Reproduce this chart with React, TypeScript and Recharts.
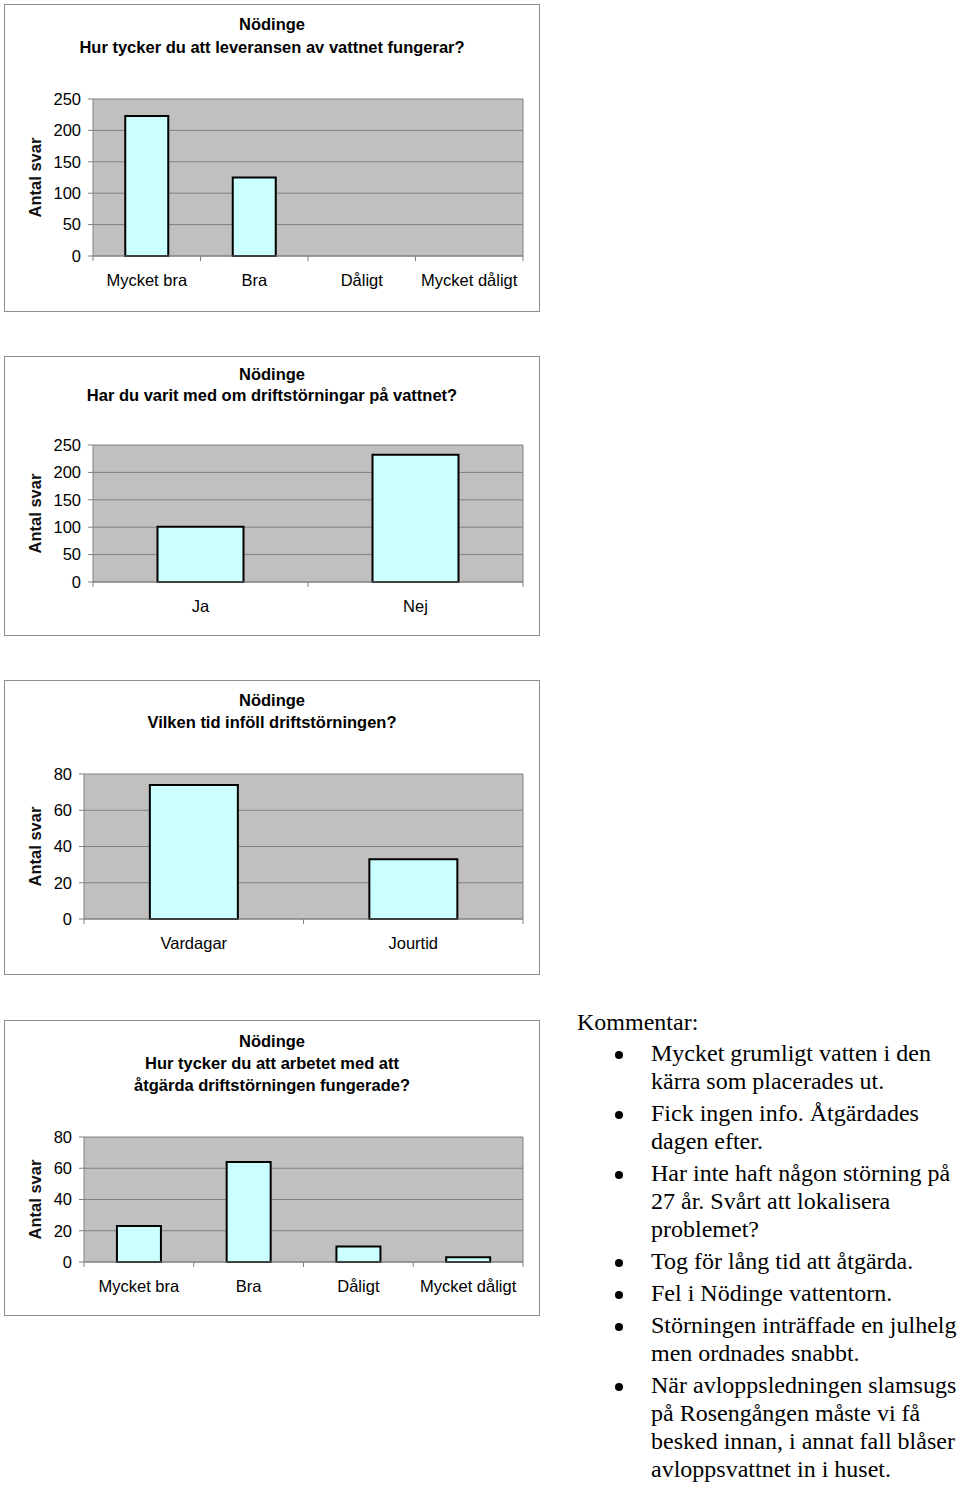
import { Bar, BarChart, CartesianGrid, XAxis, YAxis } from "recharts";

// --- data ---
const leveransCategories = ["Mycket bra", "Bra", "Dåligt", "Mycket dåligt"];
const leveransValues = [223, 125, 0, 0];
const leveransTicks = [0, 50, 100, 150, 200, 250];

const varitCategories = ["Ja", "Nej"];
const varitValues = [101, 232];
const varitTicks = [0, 50, 100, 150, 200, 250];

const tidCategories = ["Vardagar", "Jourtid"];
const tidValues = [74, 33];
const tidTicks = [0, 20, 40, 60, 80];

const arbeteCategories = ["Mycket bra", "Bra", "Dåligt", "Mycket dåligt"];
const arbeteValues = [23, 64, 10, 3];
const arbeteTicks = [0, 20, 40, 60, 80];

const comments = [
  ["Mycket grumligt vatten i den", "kärra som placerades ut."],
  ["Fick ingen info. Åtgärdades", "dagen efter."],
  ["Har inte haft någon störning på", "27 år. Svårt att lokalisera", "problemet?"],
  ["Tog för lång tid att åtgärda."],
  ["Fel i Nödinge vattentorn."],
  ["Störningen inträffade en julhelg", "men ordnades snabbt."],
  ["När avloppsledningen slamsugs", "på Rosengången måste vi få", "besked innan, i annat fall blåser", "avloppsvattnet in i huset."],
];

const PLOT_BG = "#c0c0c0";
const GRID = "#808080";
const BAR_FILL = "#ccffff";
const FRAME = "#8c8c8c";
const FONT = "'Liberation Sans', Arial, sans-serif";
const FS = 16.5;

const FRAME_LEFT = 4;
const FRAME_W = 536;
const RIGHT_GAP = 17;

interface PanelProps {
  title: string[];
  categories: string[];
  values: number[];
  ticks: number[];
  top: number;
  height: number;
  plotTop: number;
  axisWidth: number;
  xAxisHeight: number;
  titleOffset: number;
  titleLine: number;
}

function CategoryTick(props: any) {
  const { x, y, payload, index, count, fallbackHalf } = props;
  const half = typeof payload?.offset === "number" && payload.offset > 0 ? payload.offset : fallbackHalf;
  return (
    <g>
      <line x1={x - half} x2={x - half} y1={y} y2={y + 5} stroke={GRID} />
      {index === count - 1 && <line x1={x + half} x2={x + half} y1={y} y2={y + 5} stroke={GRID} />}
      <text x={x} y={y + 30} textAnchor="middle" fontSize={FS} fontFamily={FONT} fill="#000">
        {payload.value}
      </text>
    </g>
  );
}

function Panel({ title, categories, values, ticks, top, height, plotTop, axisWidth, xAxisHeight, titleOffset, titleLine }: PanelProps) {
  const data = categories.map((c, i) => ({ label: c, value: values[i] }));
  const plotW = FRAME_W - axisWidth - RIGHT_GAP;
  const fallbackHalf = plotW / categories.length / 2;

  return (
    <>
      <div
        style={{
          position: "absolute",
          left: FRAME_LEFT,
          top,
          width: FRAME_W,
          height,
          border: `1px solid ${FRAME}`,
          boxSizing: "border-box",
        }}
      />
      <div
        style={{
          position: "absolute",
          left: FRAME_LEFT,
          top: top + titleOffset,
          width: FRAME_W,
          textAlign: "center",
          fontFamily: FONT,
          fontWeight: "bold",
          fontSize: FS,
          lineHeight: `${titleLine}px`,
          color: "#000",
        }}
      >
        {title.map((t, i) => (
          <div key={i}>{t}</div>
        ))}
      </div>
      <div style={{ position: "absolute", left: FRAME_LEFT, top }}>
        <BarChart
          width={FRAME_W}
          height={height}
          data={data}
          margin={{ top: plotTop - top, right: RIGHT_GAP, bottom: 0, left: 0 }}
          barCategoryGap="30%"
        >
          <CartesianGrid
            fill={PLOT_BG}
            fillOpacity={1}
            stroke={GRID}
            verticalCoordinatesGenerator={(p: any) => (p && p.offset ? [p.offset.left + p.offset.width] : [])}
          />
          <XAxis
            dataKey="label"
            height={xAxisHeight}
            axisLine={{ stroke: GRID }}
            tickLine={false}
            tickSize={0}
            tickMargin={0}
            interval={0}
            tick={(p: any) => <CategoryTick {...p} count={categories.length} fallbackHalf={fallbackHalf} />}
          />
          <YAxis
            width={axisWidth}
            domain={[0, ticks[ticks.length - 1]]}
            ticks={ticks}
            interval={0}
            allowDecimals={false}
            axisLine={{ stroke: GRID }}
            tickLine={{ stroke: GRID }}
            tickSize={5}
            tickMargin={7}
            tick={{ fontSize: FS, fontFamily: FONT, fill: "#000" }}
            label={{
              content: (lp: any) => {
                const vb = lp.viewBox || { x: 0, y: 0, height: 0 };
                const cx = vb.x + 31;
                const cy = vb.y + vb.height / 2;
                return (
                  <text
                    x={cx}
                    y={cy}
                    transform={`rotate(-90 ${cx} ${cy})`}
                    textAnchor="middle"
                    dominantBaseline="central"
                    fontSize={FS}
                    fontWeight="bold"
                    fontFamily={FONT}
                    fill="#111"
                  >
                    Antal svar
                  </text>
                );
              },
            }}
          />
          <Bar dataKey="value" fill={BAR_FILL} stroke="#000" strokeWidth={2} isAnimationActive={false} />
        </BarChart>
      </div>
    </>
  );
}

function Comments() {
  return (
    <div
      style={{
        position: "absolute",
        left: 577,
        top: 1008,
        width: 383,
        fontFamily: "'Liberation Serif', 'Times New Roman', serif",
        fontSize: 24,
        lineHeight: "28px",
        color: "#000",
        whiteSpace: "nowrap",
      }}
    >
      <div>Kommentar:</div>
      <div style={{ marginTop: 3 }}>
        {comments.map((lines, i) => (
          <div key={i} style={{ position: "relative", marginLeft: 74, marginTop: i === 0 ? 0 : 4 }}>
            <span
              style={{
                position: "absolute",
                left: -36,
                top: 12,
                width: 8,
                height: 8,
                borderRadius: 4,
                background: "#000",
              }}
            />
            {lines.map((l, j) => (
              <div key={j}>{l}</div>
            ))}
          </div>
        ))}
      </div>
    </div>
  );
}

export default function App() {
  return (
    <div style={{ position: "absolute", left: 0, top: 0, width: 960, height: 1486, background: "#fff", overflow: "hidden" }}>
      <Panel
        title={["Nödinge", "Hur tycker du att leveransen av vattnet fungerar?"]}
        categories={leveransCategories}
        values={leveransValues}
        ticks={leveransTicks}
        top={4}
        height={308}
        plotTop={99}
        axisWidth={89}
        xAxisHeight={56}
        titleOffset={9}
        titleLine={23}
      />
      <Panel
        title={["Nödinge", "Har du varit med om driftstörningar på vattnet?"]}
        categories={varitCategories}
        values={varitValues}
        ticks={varitTicks}
        top={356}
        height={280}
        plotTop={445}
        axisWidth={89}
        xAxisHeight={54}
        titleOffset={8}
        titleLine={21}
      />
      <Panel
        title={["Nödinge", "Vilken tid inföll driftstörningen?"]}
        categories={tidCategories}
        values={tidValues}
        ticks={tidTicks}
        top={680}
        height={295}
        plotTop={774}
        axisWidth={80}
        xAxisHeight={56}
        titleOffset={9}
        titleLine={22}
      />
      <Panel
        title={["Nödinge", "Hur tycker du att arbetet med att", "åtgärda driftstörningen fungerade?"]}
        categories={arbeteCategories}
        values={arbeteValues}
        ticks={arbeteTicks}
        top={1020}
        height={296}
        plotTop={1137}
        axisWidth={80}
        xAxisHeight={54}
        titleOffset={10}
        titleLine={22}
      />
      <Comments />
    </div>
  );
}
